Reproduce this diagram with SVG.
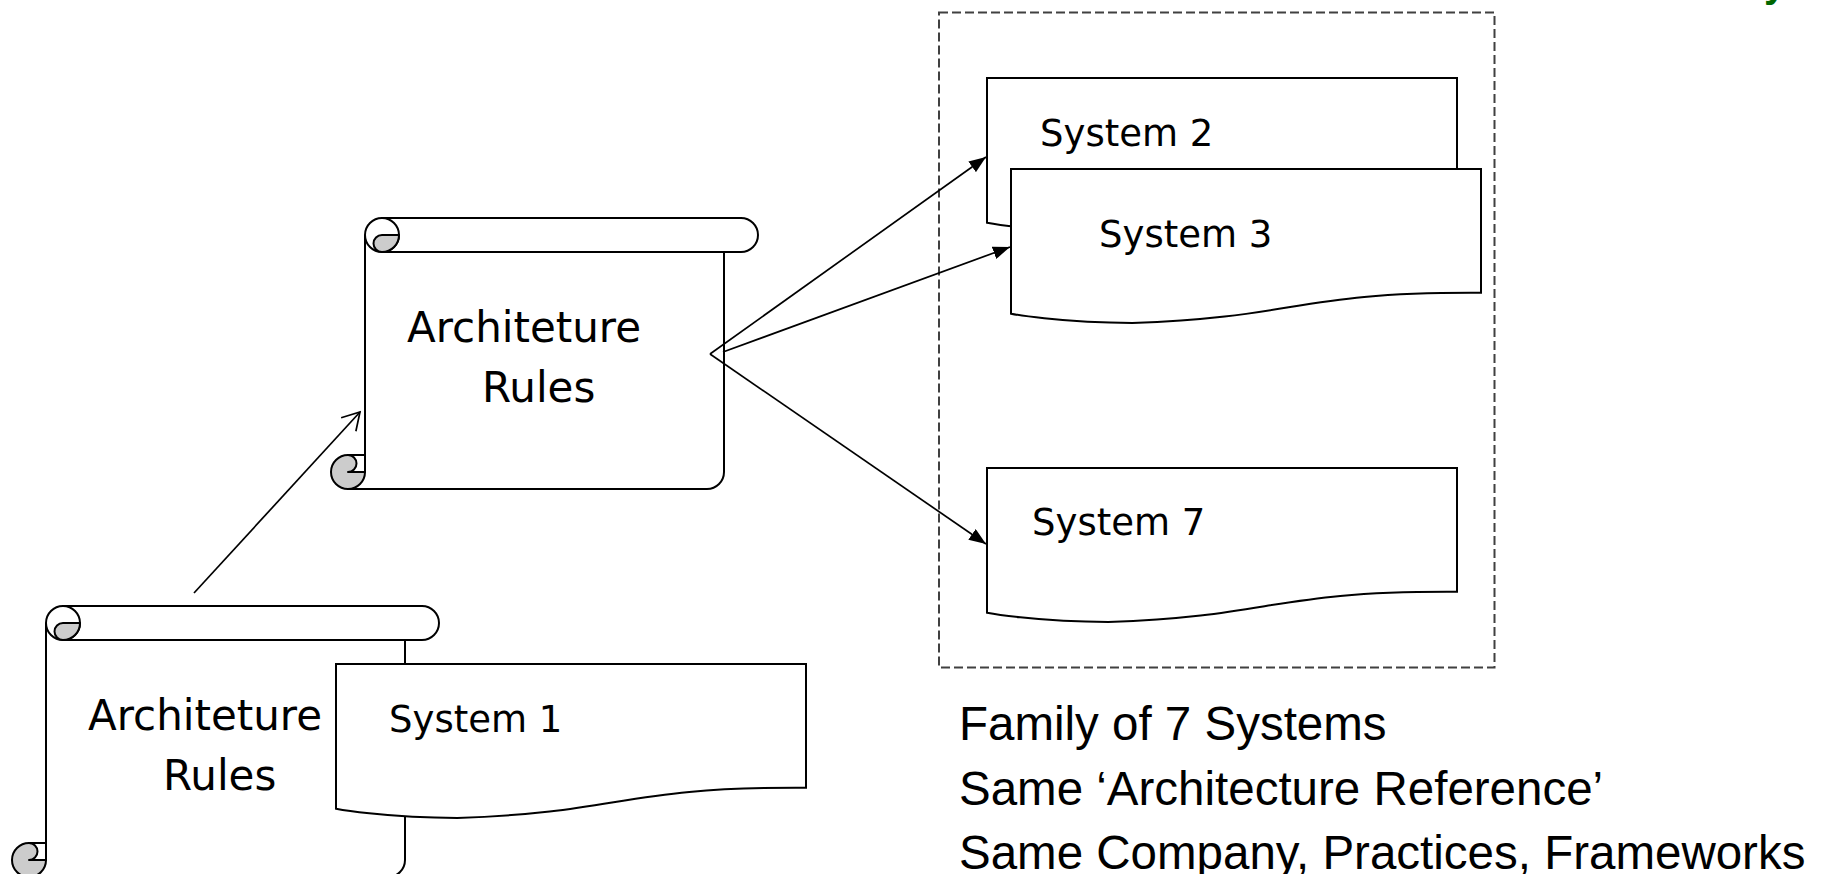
<svg xmlns="http://www.w3.org/2000/svg" xmlns:xlink="http://www.w3.org/1999/xlink" width="1829" height="874" viewBox="0 0 1829 874">
  <style>
    .paper { fill: #ffffff; stroke: #000000; stroke-width: 2; stroke-linejoin: round; }
    .sheet { fill: #ffffff; stroke: none; }
    .ln { fill: none; stroke: #000000; stroke-width: 2; stroke-linejoin: round; }
    .curl { fill: #cccccc; stroke: #000000; stroke-width: 2; stroke-linejoin: round; }
    .doc { fill: #ffffff; stroke: #000000; stroke-width: 2; stroke-linejoin: miter; }
    .scroll-label { font-family: "DejaVu Sans", Verdana, sans-serif; font-size: 42px; fill: #000000; }
    .sys-label { font-family: "DejaVu Sans", Verdana, sans-serif; font-size: 37px; fill: #000000; }
    .note { font-family: "Liberation Sans", Arial, sans-serif; font-size: 47.5px; fill: #000000; }
    .conn { fill: none; stroke: #000000; stroke-width: 1.7; }
    .family { fill: none; stroke: #404040; stroke-width: 2; stroke-dasharray: 9 4; }
  </style>
  <defs>
    <!-- rolled parchment: top roll with curl at top-left, small curl at bottom-left -->
    <g id="scroll-shape">
      <path class="sheet" d="M0,17 H359 V254 A17,17 0 0 1 342,271 H0 Z"/>
      <path class="ln" d="M0,17 V254"/>
      <path class="ln" d="M-17,271 H342 A17,17 0 0 0 359,254 V34"/>
      <rect class="paper" x="0" y="0" width="393" height="34" rx="17" ry="17"/>
      <path class="ln" d="M17,0 A17,17 0 0 1 17,34"/>
      <path class="curl" d="M17,17 H34 A17,17 0 0 1 17,34 A8.5,8.5 0 0 1 17,17 Z"/>
      <circle class="curl" cx="-17" cy="254" r="17"/>
      <path class="paper" d="M-17,237 H0 V254 H-17 A8.5,8.5 0 0 0 -17,237 Z"/>
    </g>
    <!-- document sheet with wavy lower edge, 470 x 154 -->
    <path id="doc-shape" class="doc" d="M0,0 H470 V123.8 C284,122.8 290.3,148.1 121.2,154 C48.3,154 0,144.7 0,144.7 Z"/>
    <marker id="head-solid" markerUnits="userSpaceOnUse" markerWidth="17" markerHeight="13" viewBox="0 0 17 13" refX="17" refY="6.5" orient="auto">
      <path d="M0,0 L17,6.5 L0,13 Z" fill="#000000"/>
    </marker>
    <marker id="head-open" markerUnits="userSpaceOnUse" markerWidth="20" markerHeight="22" viewBox="-1 -1 20 22" refX="17" refY="10" orient="auto">
      <path d="M0,0 L17,10 L0,20" fill="none" stroke="#000000" stroke-width="1.7"/>
    </marker>
  </defs>

  <rect x="0" y="0" width="1829" height="874" fill="#ffffff"/>

  <!-- heading, mostly above the visible area -->
  <text x="1764" y="-3" font-family="Liberation Sans, Arial, sans-serif" font-weight="bold" font-size="40" fill="#006600">y</text>

  <!-- lower rules scroll -->
  <g id="rules-base">
    <use xlink:href="#scroll-shape" href="#scroll-shape" transform="translate(46,606)"/>
    <text class="scroll-label" x="88" y="730">Architeture</text>
    <text class="scroll-label" x="163" y="790">Rules</text>
  </g>

  <!-- system 1 -->
  <g id="system-1">
    <use xlink:href="#doc-shape" href="#doc-shape" transform="translate(336,664)"/>
    <text class="sys-label" x="389" y="732">System 1</text>
  </g>

  <!-- upper rules scroll -->
  <g id="rules-shared">
    <use xlink:href="#scroll-shape" href="#scroll-shape" transform="translate(365,218)"/>
    <text class="scroll-label" x="407" y="342">Architeture</text>
    <text class="scroll-label" x="482" y="402">Rules</text>
  </g>

  <!-- family boundary -->
  <g id="family">
    <rect class="family" x="939" y="12.5" width="555.5" height="655"/>
  </g>

  <g id="system-2">
    <use xlink:href="#doc-shape" href="#doc-shape" transform="translate(987,78)"/>
    <text class="sys-label" x="1040" y="146">System 2</text>
  </g>

  <g id="system-3">
    <use xlink:href="#doc-shape" href="#doc-shape" transform="translate(1011,169)"/>
    <text class="sys-label" x="1099" y="247">System 3</text>
  </g>

  <g id="system-7">
    <use xlink:href="#doc-shape" href="#doc-shape" transform="translate(987,468)"/>
    <text class="sys-label" x="1032" y="535">System 7</text>
  </g>

  <!-- notes -->
  <g id="family-notes">
    <text class="note" x="959" y="740">Family of 7 Systems</text>
    <text class="note" x="959" y="804.5">Same ‘Architecture Reference’</text>
    <text class="note" x="959" y="869">Same Company, Practices, Frameworks</text>
  </g>

  <!-- connectors -->
  <g id="connectors">
    <line class="conn" x1="194" y1="593" x2="360" y2="412" marker-end="url(#head-open)"/>
    <line class="conn" x1="710" y1="354" x2="986" y2="157" marker-end="url(#head-solid)"/>
    <line class="conn" x1="723" y1="352" x2="1010" y2="247" marker-end="url(#head-solid)"/>
    <line class="conn" x1="710" y1="354" x2="986" y2="544" marker-end="url(#head-solid)"/>
  </g>
</svg>
